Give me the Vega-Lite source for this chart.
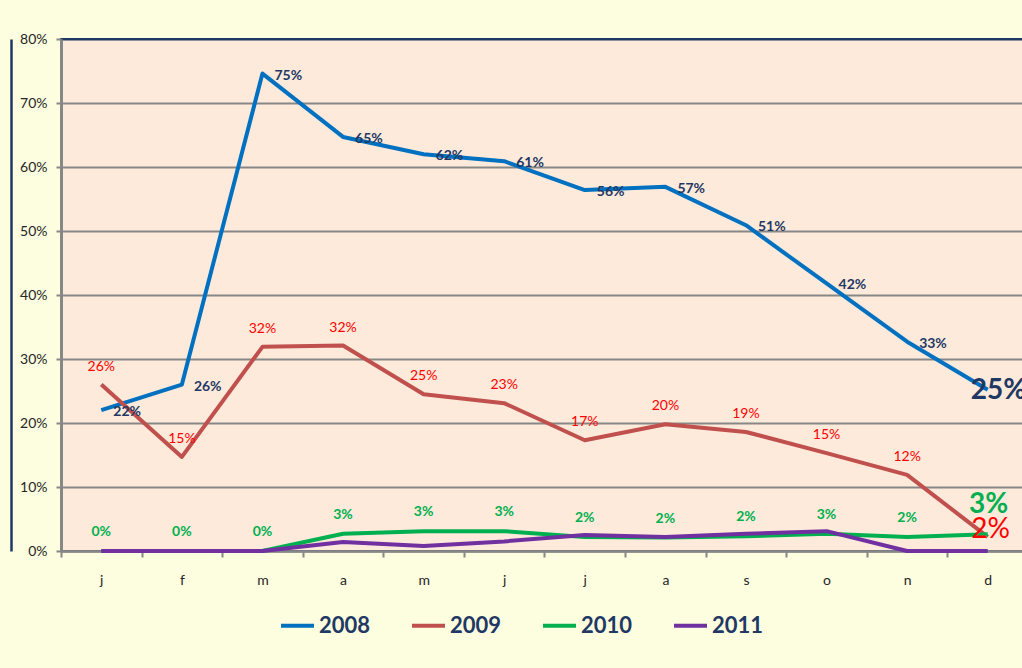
{
  "$schema": "https://vega.github.io/schema/vega-lite/v6.json",
  "width": 967,
  "height": 512,
  "autosize": {"type": "none"},
  "padding": {"left": 61, "top": 39, "right": -6, "bottom": 117},
  "background": "#FDFDDF",
  "config": {
    "view": {"fill": "#FDEADA", "stroke": "#1F3864", "strokeWidth": 2},
    "font": "Lato",
    "text": {"font": "Lato"}
  },
  "data": {
    "values": [
      {"month": 1, "year": "2008", "value": 0.22},
      {"month": 2, "year": "2008", "value": 0.26},
      {"month": 3, "year": "2008", "value": 0.746},
      {"month": 4, "year": "2008", "value": 0.647},
      {"month": 5, "year": "2008", "value": 0.62},
      {"month": 6, "year": "2008", "value": 0.609},
      {"month": 7, "year": "2008", "value": 0.564},
      {"month": 8, "year": "2008", "value": 0.569},
      {"month": 9, "year": "2008", "value": 0.509},
      {"month": 10, "year": "2008", "value": 0.418},
      {"month": 11, "year": "2008", "value": 0.327},
      {"month": 12, "year": "2008", "value": 0.252},
      {"month": 1, "year": "2009", "value": 0.26},
      {"month": 2, "year": "2009", "value": 0.147},
      {"month": 3, "year": "2009", "value": 0.319},
      {"month": 4, "year": "2009", "value": 0.321},
      {"month": 5, "year": "2009", "value": 0.245},
      {"month": 6, "year": "2009", "value": 0.231},
      {"month": 7, "year": "2009", "value": 0.173},
      {"month": 8, "year": "2009", "value": 0.198},
      {"month": 9, "year": "2009", "value": 0.186},
      {"month": 10, "year": "2009", "value": 0.153},
      {"month": 11, "year": "2009", "value": 0.119},
      {"month": 12, "year": "2009", "value": 0.022},
      {"month": 1, "year": "2010", "value": 0},
      {"month": 2, "year": "2010", "value": 0},
      {"month": 3, "year": "2010", "value": 0},
      {"month": 4, "year": "2010", "value": 0.027},
      {"month": 5, "year": "2010", "value": 0.031},
      {"month": 6, "year": "2010", "value": 0.031},
      {"month": 7, "year": "2010", "value": 0.022},
      {"month": 8, "year": "2010", "value": 0.021},
      {"month": 9, "year": "2010", "value": 0.023},
      {"month": 10, "year": "2010", "value": 0.027},
      {"month": 11, "year": "2010", "value": 0.022},
      {"month": 12, "year": "2010", "value": 0.026},
      {"month": 1, "year": "2011", "value": 0},
      {"month": 2, "year": "2011", "value": 0},
      {"month": 3, "year": "2011", "value": 0},
      {"month": 4, "year": "2011", "value": 0.014},
      {"month": 5, "year": "2011", "value": 0.008},
      {"month": 6, "year": "2011", "value": 0.015},
      {"month": 7, "year": "2011", "value": 0.025},
      {"month": 8, "year": "2011", "value": 0.022},
      {"month": 9, "year": "2011", "value": 0.027},
      {"month": 10, "year": "2011", "value": 0.031},
      {"month": 11, "year": "2011", "value": 0},
      {"month": 12, "year": "2011", "value": 0}
    ]
  },
  "encoding": {
    "x": {
      "field": "month",
      "type": "ordinal",
      "bandPosition": 0.5,
      "scale": {"type": "band", "paddingInner": 0, "paddingOuter": 0},
      "axis": {
        "title": null,
        "labelExpr": "['j','f','m','a','m','j','j','a','s','o','n','d'][datum.value-1]",
        "tickBand": "extent",
        "domainColor": "#878787",
        "domainWidth": 2.5,
        "tickColor": "#878787",
        "tickWidth": 2,
        "tickSize": 6,
        "labelPadding": 16,
        "labelFontSize": 14,
        "labelColor": "#262626",
        "labelAngle": 0,
        "grid": false
      }
    }
  },
  "layer": [
    {
      "mark": {"type": "point", "opacity": 0},
      "encoding": {
        "y": {
          "field": "value",
          "type": "quantitative",
          "scale": {"domain": [0, 0.8], "nice": false},
          "axis": {
            "orient": "left",
            "offset": 50,
            "domainColor": "#1F3864",
            "domainWidth": 2.5,
            "labels": false,
            "ticks": false,
            "grid": false,
            "title": null
          }
        }
      }
    },
    {
      "mark": {"type": "line", "strokeWidth": 4, "strokeJoin": "round"},
      "encoding": {
        "y": {
          "field": "value",
          "type": "quantitative",
          "scale": {"domain": [0, 0.8], "nice": false},
          "axis": {
            "orient": "left",
            "title": null,
            "values": [0, 0.1, 0.2, 0.3, 0.4, 0.5, 0.6, 0.7, 0.8],
            "format": ".0%",
            "grid": true,
            "gridColor": {"condition": {"test": "datum.value >= 0.79", "value": "#1F3864"}, "value": "#878787"},
            "gridWidth": 2,
            "domainColor": "#878787",
            "domainWidth": 3,
            "tickColor": "#878787",
            "tickWidth": 2,
            "tickSize": 5,
            "labelPadding": 9,
            "labelFontSize": 14,
            "labelColor": "#262626"
          }
        },
        "color": {
          "field": "year",
          "type": "nominal",
          "scale": {"domain": ["2008", "2009", "2010", "2011"], "range": ["#0070C0", "#C0504D", "#00B050", "#7030A0"]},
          "legend": {
            "orient": "none",
            "legendX": 218,
            "legendY": 568,
            "direction": "horizontal",
            "title": null,
            "symbolType": "stroke",
            "symbolSize": 1089,
            "symbolStrokeWidth": 4,
            "labelFontSize": 22,
            "labelFont": "Lato",
            "labelFontWeight": "bold",
            "labelColor": "#1F3864",
            "columnPadding": 33,
            "labelOffset": 3
          }
        }
      }
    },
    {
      "transform": [{"filter": "datum.year == '2008' && datum.month < 12"}],
      "mark": {"type": "text", "align": "left", "baseline": "middle", "dx": 12, "dy": 2, "fontSize": 14, "fontWeight": "bold", "color": "#1F3864"},
      "encoding": {
        "y": {"field": "value", "type": "quantitative", "scale": {"domain": [0, 0.8], "nice": false}, "axis": null},
        "text": {"field": "value", "type": "quantitative", "format": ".0%"}
      }
    },
    {
      "transform": [{"filter": "datum.year == '2008' && datum.month == 12"}],
      "mark": {"type": "text", "align": "left", "baseline": "middle", "dx": -17, "dy": 1, "fontSize": 28, "fontWeight": "bold", "color": "#1F3864"},
      "encoding": {
        "y": {"field": "value", "type": "quantitative", "scale": {"domain": [0, 0.8], "nice": false}, "axis": null},
        "text": {"field": "value", "type": "quantitative", "format": ".0%"}
      }
    },
    {
      "transform": [{"filter": "datum.year == '2009' && datum.month < 12"}],
      "mark": {"type": "text", "align": "center", "baseline": "middle", "dy": -18, "fontSize": 14, "color": "#FF0000"},
      "encoding": {
        "y": {"field": "value", "type": "quantitative", "scale": {"domain": [0, 0.8], "nice": false}, "axis": null},
        "text": {"field": "value", "type": "quantitative", "format": ".0%"}
      }
    },
    {
      "transform": [{"filter": "datum.year == '2009' && datum.month == 12"}],
      "mark": {"type": "text", "align": "center", "baseline": "middle", "dx": 3, "dy": -7, "fontSize": 28, "color": "#FF0000"},
      "encoding": {
        "y": {"field": "value", "type": "quantitative", "scale": {"domain": [0, 0.8], "nice": false}, "axis": null},
        "text": {"field": "value", "type": "quantitative", "format": ".0%"}
      }
    },
    {
      "transform": [{"filter": "datum.year == '2010' && datum.month < 12"}],
      "mark": {"type": "text", "align": "center", "baseline": "middle", "dy": -19, "fontSize": 14, "fontWeight": "bold", "color": "#00B050"},
      "encoding": {
        "y": {"field": "value", "type": "quantitative", "scale": {"domain": [0, 0.8], "nice": false}, "axis": null},
        "text": {"field": "value", "type": "quantitative", "format": ".0%"}
      }
    },
    {
      "transform": [{"filter": "datum.year == '2010' && datum.month == 12"}],
      "mark": {"type": "text", "align": "center", "baseline": "middle", "dx": 1, "dy": -29, "fontSize": 28, "fontWeight": "bold", "color": "#00B050"},
      "encoding": {
        "y": {"field": "value", "type": "quantitative", "scale": {"domain": [0, 0.8], "nice": false}, "axis": null},
        "text": {"field": "value", "type": "quantitative", "format": ".0%"}
      }
    }
  ],
  "resolve": {"axis": {"y": "independent"}}
}
